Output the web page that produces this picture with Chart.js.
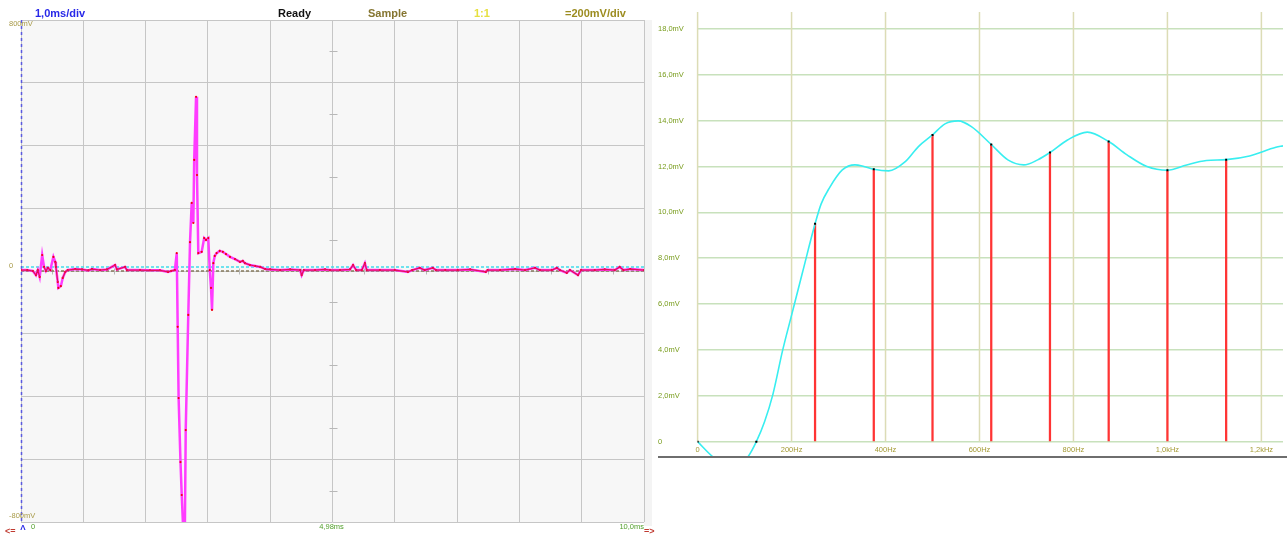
<!DOCTYPE html>
<html><head><meta charset="utf-8">
<script src="https://cdn.jsdelivr.net/npm/chart.js@4.4.1/dist/chart.umd.min.js"></script>
<style>
html,body{margin:0;padding:0;background:#fff;}
#wrap{position:relative;width:1287px;height:535px;overflow:hidden;font-family:"Liberation Sans",Arial,sans-serif;background:#fff;}
.box{position:absolute;top:0;height:535px;}
.hdr{position:absolute;top:6px;font-weight:bold;font-size:11px;line-height:14px;white-space:nowrap;}
.arr{position:absolute;top:526px;font-weight:bold;font-size:9px;line-height:10px;color:#c03a30;white-space:nowrap;}
</style></head><body>
<div id="wrap">
<div class="box" style="left:0;width:652px"><canvas id="scope"></canvas></div>
<div class="box" style="left:652px;width:635px"><canvas id="spec"></canvas></div>
<div class="hdr" style="left:35px;color:#2828e8">1,0ms/div</div>
<div class="hdr" style="left:278px;color:#111">Ready</div>
<div class="hdr" style="left:368px;color:#857530">Sample</div>
<div class="hdr" style="left:474px;color:#e6e040">1:1</div>
<div class="hdr" style="left:565px;color:#9c8c20">=200mV/div</div>
<div class="arr" style="left:5px">&lt;=</div>
<div class="arr" style="left:644px">=&gt;</div>
</div>
<script>
// ---------- Oscilloscope (left) ----------
const scopeTime = [0,0.10,0.19,0.24,0.27,0.30,0.34,0.37,0.40,0.43,0.47,0.52,0.55,0.56,0.59,0.60,0.64,0.67,0.71,0.75,0.87,0.98,1.08,1.14,1.27,1.38,1.51,1.54,1.67,1.70,1.91,2.07,2.23,2.36,2.41,2.47,2.50,2.515,2.53,2.56,2.58,2.605,2.63,2.644,2.685,2.713,2.74,2.766,2.78,2.81,2.825,2.846,2.90,2.94,2.97,3.006,3.03,3.05,3.066,3.087,3.11,3.14,3.19,3.24,3.29,3.355,3.435,3.515,3.56,3.595,3.675,3.76,3.84,3.92,4.00,4.16,4.32,4.48,4.505,4.54,4.72,4.88,4.96,5.12,5.28,5.33,5.38,5.47,5.52,5.55,5.76,6.00,6.21,6.28,6.40,6.48,6.61,6.66,6.81,7.01,7.21,7.46,7.49,7.69,7.93,8.09,8.25,8.33,8.52,8.60,8.65,8.76,8.81,8.94,8.99,9.21,9.37,9.53,9.61,9.67,9.78,10.0];
const scopeVolt = [3,3,0,-13,3,-19,51,13,0,10,3,45,29,13,-35,-54,-48,-22,-3,3,6,5,2,6,3,5,19,5,13,3,3,2,2,-3,0,3,57,-178,-405,-609,-714,-830,-830,-507,-140,92,217,153,354,555,306,57,61,105,99,105,3,-54,-124,25,48,57,64,61,54,45,38,29,32,25,19,16,13,6,5,3,5,3,-13,3,3,5,3,3,5,19,3,3,25,3,3,3,-3,3,10,3,10,3,3,3,5,-3,3,3,6,3,10,3,3,10,3,-6,3,-13,3,3,5,3,13,3,6,3];
const scopeTimeTicks = [0,1,2,3,4,5,6,7,8,9,10];
const scopeVoltTicks = [-800,-600,-400,-200,0,200,400,600,800];
const scopeMinorVolt = [-700,-500,-300,-100,100,300,500,700];
const scopeMinorTime = [0.5,1.5,2.5,3.5,4.5,5.5,6.5,7.5,8.5,9.5];
const scopeVoltLabels = [[800,'800mV'],[0,'0'],[-800,'-800mV']];
const scopeTimeLabels = [[0,'0'],[5,'4,98ms'],[10,'10,0ms']];
const scopeRefCyan = 13;
const scopeCenterT = 5;

// ---------- Spectrum (right) ----------
const specFreq = [0,33,55,78,98,107,125,142.5,160,181.2,200.2,223.5,250,263,280,308,335,354,375,406.7,442,470,500,526.6,554.7,582.8,625,660.4,694.3,723.8,750,787.3,829.5,875,914,956.4,1000,1041,1083,1125,1174.7,1231,1246];
const specAmp  = [0,-0.67,-0.95,-1.0,-0.85,-0.67,0,0.87,2.04,4.0,5.53,7.40,9.5,10.37,11.05,11.85,12.07,12.0,11.88,11.81,12.21,12.87,13.38,13.86,13.99,13.74,12.96,12.29,12.07,12.29,12.61,13.16,13.5,13.09,12.51,12.0,11.84,12.07,12.26,12.30,12.46,12.84,12.9];
const harmFreq = [0,125,250,375,500,625,750,875,1000,1125];
const harmAmp  = [0,0,9.50,11.88,13.38,12.96,12.61,13.09,11.84,12.30];
const specFreqGrid = [0,200,400,600,800,1000,1200];
const specFreqLabels = ['0','200Hz','400Hz','600Hz','800Hz','1,0kHz','1,2kHz'];
const specAmpTicks = [0,2,4,6,8,10,12,14,16,18];
const specAmpLabels = ['0','2,0mV','4,0mV','6,0mV','8,0mV','10,0mV','12,0mV','14,0mV','16,0mV','18,0mV'];

const FONT = '"Liberation Sans", Arial, sans-serif';

const scopePoints = scopeTime.map((t,i)=>({x:t,y:scopeVolt[i]}));
const nearBase = ctx => Math.abs(ctx.p0.parsed.y) < 40 && Math.abs(ctx.p1.parsed.y) < 40;

const scopeDeco = {
  id:'scopeDeco',
  beforeDraw(chart){
    const {ctx, chartArea:a} = chart;
    ctx.save();
    ctx.fillStyle = '#f7f7f7';
    ctx.fillRect(a.left, a.top, a.right-a.left, a.bottom-a.top);
    ctx.fillStyle = '#f4f4f4';
    ctx.fillRect(a.right, a.top, chart.width-a.right, a.bottom-a.top+4);
    ctx.restore();
  },
  beforeDatasetsDraw(chart){
    const {ctx, chartArea:a, scales:{x,y}} = chart;
    ctx.save();
    ctx.strokeStyle = '#b8b8b8'; ctx.lineWidth = 1;
    const cx = Math.round(x.getPixelForValue(scopeCenterT))+0.5;
    const cy = Math.round(y.getPixelForValue(0))+0.5;
    scopeMinorVolt.forEach(v=>{const py=Math.round(y.getPixelForValue(v))+0.5;ctx.beginPath();ctx.moveTo(cx-4,py);ctx.lineTo(cx+4,py);ctx.stroke();});
    scopeMinorTime.forEach(t=>{const px=Math.round(x.getPixelForValue(t))+0.5;ctx.beginPath();ctx.moveTo(px,cy-3);ctx.lineTo(px,cy+3);ctx.stroke();});
    ctx.lineWidth = 1.5;
    ctx.setLineDash([3,2]);
    let py = y.getPixelForValue(scopeRefCyan);
    ctx.strokeStyle = '#40dcec';
    ctx.beginPath(); ctx.moveTo(a.left,py); ctx.lineTo(a.right,py); ctx.stroke();
    py = y.getPixelForValue(0);
    ctx.strokeStyle = '#857a5c';
    ctx.beginPath(); ctx.moveTo(a.left,py); ctx.lineTo(a.right,py); ctx.stroke();
    const px0 = x.getPixelForValue(0)+0.5;
    ctx.setLineDash([3,3]);
    ctx.strokeStyle = '#5a5ae0';
    ctx.beginPath(); ctx.moveTo(px0,a.top); ctx.lineTo(px0,a.bottom); ctx.stroke();
    ctx.restore();
  },
  afterDraw(chart){
    const {ctx, chartArea:a, scales:{x,y}} = chart;
    ctx.save();
    ctx.font = '7.5px '+FONT;
    ctx.textBaseline = 'middle';
    ctx.fillStyle = '#a89a48';
    ctx.textAlign = 'left';
    scopeVoltLabels.forEach(([v,s])=>{
      let py = y.getPixelForValue(v);
      if (v>0) py += 4; else if (v<0) py -= 6; else py -= 5;
      ctx.fillText(s, 9, py);
    });
    ctx.fillStyle = '#52a02c';
    scopeTimeLabels.forEach(([t,s],i)=>{
      const px = x.getPixelForValue(t);
      ctx.textAlign = i===0 ? 'left' : (i===scopeTimeLabels.length-1 ? 'right' : 'center');
      ctx.fillText(s, i===0 ? px+10 : (i===scopeTimeLabels.length-1 ? px : px-1), a.bottom+5);
    });
    ctx.fillStyle = '#2a2ae8';
    ctx.font = 'bold 8px '+FONT;
    ctx.textAlign = 'center';
    ctx.fillText('\u039B', x.getPixelForValue(0)+2, a.bottom+6);
    ctx.restore();
  }
};

new Chart(document.getElementById('scope'), {
  type:'line',
  data:{datasets:[
    {data:scopePoints, borderColor:'#ff3cff', borderWidth:2.5, pointRadius:1.1, pointBackgroundColor:'#f00010', pointBorderWidth:0, tension:0, order:2},
    {data:scopePoints, borderColor:'#e4105a', borderWidth:1.2, pointRadius:0, tension:0, order:1,
     segment:{borderColor: ctx => nearBase(ctx) ? '#e4105a' : 'rgba(0,0,0,0)'}}
  ]},
  options:{
    responsive:true, maintainAspectRatio:false, animation:false,
    layout:{padding:{left:21, top:20, right:8, bottom:13}},
    plugins:{legend:{display:false}, tooltip:{enabled:false}},
    scales:{
      x:{type:'linear', min:0, max:10, afterBuildTicks:s=>{s.ticks=scopeTimeTicks.map(v=>({value:v}));},
         ticks:{display:false}, grid:{color:'#c6c6c6', lineWidth:1, drawTicks:false}, border:{display:false}},
      y:{type:'linear', min:-800, max:800, afterBuildTicks:s=>{s.ticks=scopeVoltTicks.map(v=>({value:v}));},
         ticks:{display:false}, grid:{color:'#c6c6c6', lineWidth:1, drawTicks:false}, border:{display:false}}
    }
  },
  plugins:[scopeDeco]
});

// ---------- Spectrum chart ----------
const specDeco = {
  id:'specDeco',
  beforeDatasetsDraw(chart){
    const {ctx, chartArea:a, scales:{x,y}} = chart;
    ctx.save();
    ctx.strokeStyle = '#dcdcb6'; ctx.lineWidth = 1.5;
    const y0 = y.getPixelForValue(0);
    specFreqGrid.forEach(f=>{
      const px = x.getPixelForValue(f);
      ctx.beginPath(); ctx.moveTo(px, a.top); ctx.lineTo(px, y0); ctx.stroke();
    });
    ctx.restore();
  },
  afterDraw(chart){
    const {ctx, chartArea:a, scales:{x,y}} = chart;
    ctx.save();
    ctx.strokeStyle = '#6e6e6e'; ctx.lineWidth = 2;
    ctx.beginPath(); ctx.moveTo(6, a.bottom); ctx.lineTo(chart.width, a.bottom); ctx.stroke();
    ctx.font = '7.5px '+FONT;
    ctx.textBaseline = 'middle';
    ctx.fillStyle = '#789c1c';
    ctx.textAlign = 'left';
    specAmpTicks.forEach((v,i)=>{ ctx.fillText(specAmpLabels[i], 6, y.getPixelForValue(v)); });
    ctx.fillStyle = '#a49a34';
    ctx.textAlign = 'center';
    specFreqGrid.forEach((f,i)=>{ ctx.fillText(specFreqLabels[i], x.getPixelForValue(f), y.getPixelForValue(0)+8); });
    ctx.restore();
  }
};

new Chart(document.getElementById('spec'), {
  type:'line',
  data:{datasets:[
    {type:'bar', data:harmFreq.map((f,i)=>({x:f,y:harmAmp[i]})), backgroundColor:'#ff3434', barThickness:1.6, order:3},
    {type:'line', data:specFreq.map((f,i)=>({x:f,y:specAmp[i]})), borderColor:'#38eef0', borderWidth:1.6, pointRadius:0, cubicInterpolationMode:'monotone', order:2},
    {type:'line', data:harmFreq.map((f,i)=>({x:f,y:harmAmp[i]})), showLine:false, pointStyle:'rect', pointRadius:1.4, pointBackgroundColor:'#000', pointBorderWidth:0, order:1}
  ]},
  options:{
    responsive:true, maintainAspectRatio:false, animation:false,
    layout:{padding:{left:45.6, top:12, right:0, bottom:78}},
    plugins:{legend:{display:false}, tooltip:{enabled:false}},
    scales:{
      x:{type:'linear', min:0, max:1246, offset:false, ticks:{display:false}, grid:{display:false, drawTicks:false}, border:{display:false}},
      y:{type:'linear', min:-0.67, max:18.74, afterBuildTicks:s=>{s.ticks=specAmpTicks.map(v=>({value:v}));},
         ticks:{display:false}, grid:{color:'#c8e1bc', lineWidth:1.5, drawTicks:false}, border:{display:false}}
    }
  },
  plugins:[specDeco]
});
</script>
</body></html>
